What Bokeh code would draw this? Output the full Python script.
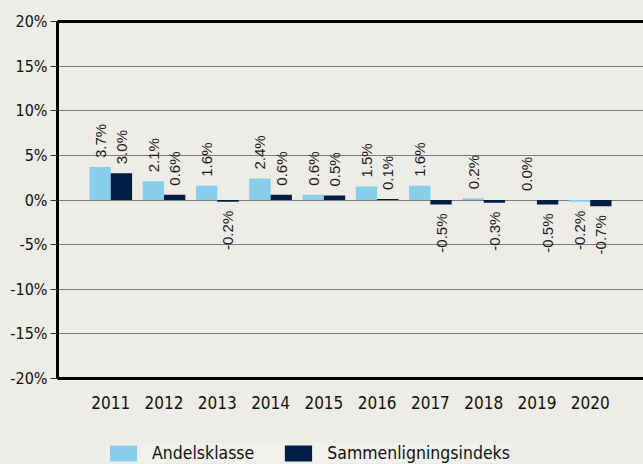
import math
from bokeh.plotting import figure
from bokeh.layouts import column
from bokeh.models import (FactorRange, Range1d, FixedTicker, CategoricalAxis,
                          Legend, LegendItem, ColumnDataSource)
from bokeh.transform import dodge
from bokeh.core.properties import value
from bokeh.embed import file_html
from bokeh.resources import INLINE

years = ["2011", "2012", "2013", "2014", "2015", "2016", "2017", "2018", "2019", "2020"]
andelsklasse = [3.7, 2.1, 1.6, 2.4, 0.6, 1.5, 1.6, 0.2, 0.0, -0.2]
sammenligningsindeks = [3.0, 0.6, -0.2, 0.6, 0.5, 0.1, -0.5, -0.3, -0.5, -0.7]
series_names = ["Andelsklasse", "Sammenligningsindeks"]
y_ticks = [-20, -15, -10, -5, 0, 5, 10, 15, 20]
y_tick_labels = ["-20%", "-15%", "-10%", "-5%", "0%", "5%", "10%", "15%", "20%"]

BG = "#EDECE7"
LIGHT = "#87CEEB"
DARK = "#001E45"
TICK_FONT = "DejaVu Sans Condensed"
LABEL_FONT = "Liberation Sans"


def lab(v):
    return f"{v:.1f}%"


src = ColumnDataSource(dict(
    year=years,
    a=andelsklasse,
    s=sammenligningsindeks,
    a_lab=[lab(v) for v in andelsklasse],
    s_lab=[lab(v) for v in sammenligningsindeks],
    a_align=["left" if v >= 0 else "right" for v in andelsklasse],
    s_align=["left" if v >= 0 else "right" for v in sammenligningsindeks],
    a_off=[-9 if v >= 0 else 9 for v in andelsklasse],
    s_off=[-9 if v >= 0 else 9 for v in sammenligningsindeks],
))

x_range = FactorRange(factors=years, range_padding=0.5, range_padding_units="absolute")
p = figure(width=643, height=411, x_range=x_range, y_range=Range1d(-20, 20),
           output_backend="svg", toolbar_location=None,
           min_border_left=57, min_border_right=0, min_border_top=21, min_border_bottom=33)
p.background_fill_color = BG
p.border_fill_color = BG
p.outline_line_color = None

r1 = p.vbar(x=dodge("year", -0.2, range=p.x_range), top="a", bottom=0, width=0.4,
            source=src, fill_color=LIGHT, line_color=None)
r2 = p.vbar(x=dodge("year", 0.2, range=p.x_range), top="s", bottom=0, width=0.4,
            source=src, fill_color=DARK, line_color=None)

p.text(x=dodge("year", -0.2, range=p.x_range), y="a", text="a_lab", source=src,
       angle=math.pi / 2, text_align="a_align", text_baseline="middle", y_offset="a_off",
       text_font=value(LABEL_FONT), text_font_size="15px", text_color="#1a1a1a")
p.text(x=dodge("year", 0.2, range=p.x_range), y="s", text="s_lab", source=src,
       angle=math.pi / 2, text_align="s_align", text_baseline="middle", y_offset="s_off",
       text_font=value(LABEL_FONT), text_font_size="15px", text_color="#1a1a1a")

# grid
p.xgrid.grid_line_color = None
p.ygrid.grid_line_color = "#7a7a7a"
p.ygrid.grid_line_width = 1
p.ygrid.ticker = FixedTicker(ticks=y_ticks)

# y axis
p.yaxis.ticker = FixedTicker(ticks=y_ticks)
p.yaxis.major_label_overrides = {t: l for t, l in zip(y_ticks, y_tick_labels)}
p.yaxis.axis_line_width = 3
p.yaxis.axis_line_color = "black"
p.yaxis.major_tick_in = 0
p.yaxis.major_tick_out = 7
p.yaxis.major_tick_line_color = "#333333"
p.yaxis.minor_tick_line_color = None
p.yaxis.major_label_standoff = 3
p.yaxis.major_label_text_font = TICK_FONT
p.yaxis.major_label_text_font_size = "16px"
p.yaxis.major_label_text_color = "#111111"

# x axis
p.xaxis.axis_line_width = 3
p.xaxis.axis_line_color = "black"
p.xaxis.major_tick_line_color = None
p.xaxis.minor_tick_line_color = None
p.xaxis.major_label_standoff = 11
p.xaxis.major_label_text_font = TICK_FONT
p.xaxis.major_label_text_font_size = "17px"
p.xaxis.major_label_text_color = "#111111"

# top border line (axis without visible labels)
top_axis = CategoricalAxis(axis_line_width=3, axis_line_color="black",
                           major_tick_line_color=None, minor_tick_line_color=None,
                           major_label_text_color=None,
                           major_label_standoff=0, major_label_text_font_size="8px")
p.add_layout(top_axis, "above")

# legend strip below the chart; its proxy bars lie outside the visible range
q = figure(width=643, height=53, x_range=Range1d(100, 101), y_range=Range1d(100, 101),
           output_backend="svg", toolbar_location=None,
           min_border_left=57, min_border_right=0, min_border_top=0, min_border_bottom=0)
q.axis.visible = False
q.grid.visible = False
q.background_fill_color = BG
q.border_fill_color = BG
q.outline_line_color = None
g1 = q.vbar(x="a", top="a", width=0.1, source=src, fill_color=LIGHT, line_color=None)
g2 = q.vbar(x="s", top="s", width=0.1, source=src, fill_color=DARK, line_color=None)

legend = Legend(items=[LegendItem(label=series_names[0], renderers=[g1]),
                       LegendItem(label=series_names[1], renderers=[g2])],
                location=(49, 1), orientation="horizontal",
                glyph_width=34, glyph_height=20, label_height=20,
                label_standoff=12, spacing=27, padding=8, margin=0,
                label_text_font=TICK_FONT, label_text_font_size="17.5px",
                label_text_color="#111111",
                background_fill_color="#F1F0EC", background_fill_alpha=1,
                border_line_color=None)
q.add_layout(legend)

layout = column(p, q, spacing=0, styles={"background-color": BG})
open("out.html", "w").write(file_html(layout, INLINE))
